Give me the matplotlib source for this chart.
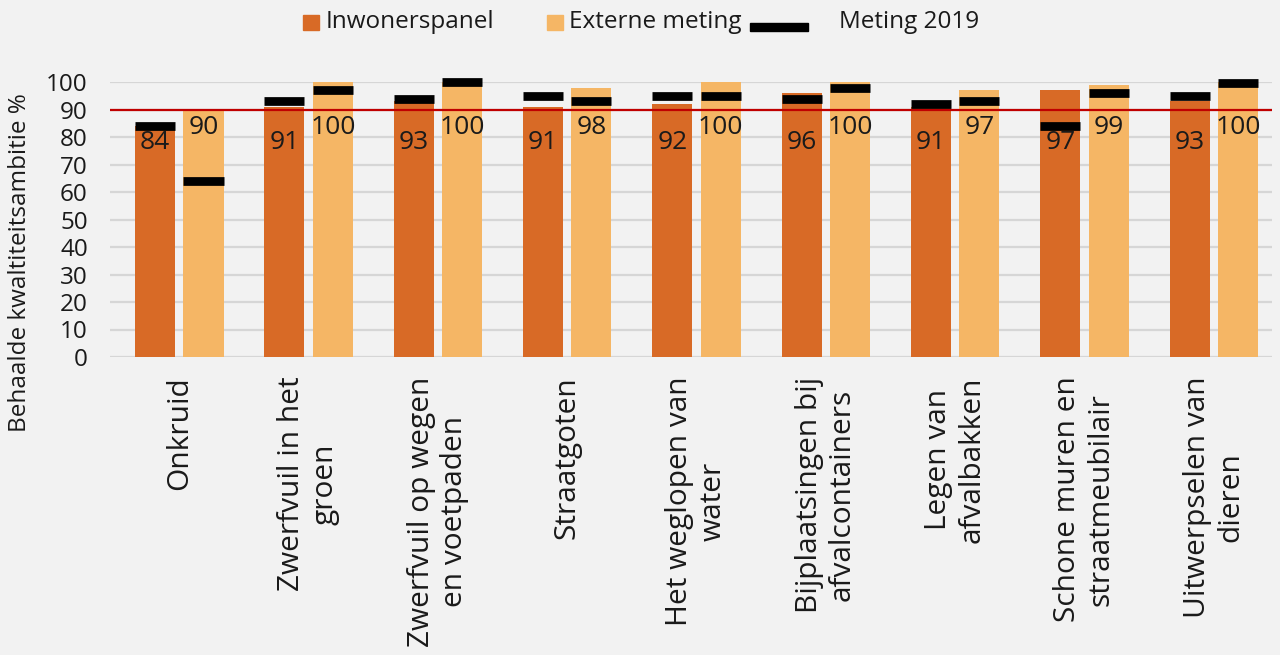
import matplotlib

matplotlib.use("Agg")
import matplotlib.pyplot as plt
import numpy as np
from matplotlib.patches import Rectangle

categories = [
    "Onkruid",
    "Zwerfvuil in het\ngroen",
    "Zwerfvuil op wegen\nen voetpaden",
    "Straatgoten",
    "Het weglopen van\nwater",
    "Bijplaatsingen bij\nafvalcontainers",
    "Legen van\nafvalbakken",
    "Schone muren en\nstraatmeubilair",
    "Uitwerpselen van\ndieren",
]
inwonerspanel = [84, 91, 93, 91, 92, 96, 91, 97, 93]
externe_meting = [90, 100, 100, 98, 100, 100, 97, 99, 100]
meting2019_inw = [84, 93, 94, 95, 95, 94, 92, 84, 95]
meting2019_ext = [64, 97, 100, 93, 95, 98, 93, 96, 99.5]
ambitie = 90
yticks = list(range(0, 101, 10))

C_INW = "#d86a26"
C_EXT = "#f5b665"
BG = "#f2f2f2"
TXT = "#1a1a1a"
W, H = 1280, 655

plt.rcParams["font.family"] = ["Open Sans", "DejaVu Sans"]

fig = plt.figure(figsize=(W / 100, H / 100), dpi=100, facecolor=BG)
ax = fig.add_axes([110 / W, 1 - 357 / H, (1272 - 110) / W, (357 - 82) / H])
ax.set_facecolor(BG)

x = np.arange(len(categories))
w = 0.31
off = 0.187

ax.bar(x - off, inwonerspanel, w, color=C_INW, zorder=2)
ax.bar(x + off, externe_meting, w, color=C_EXT, zorder=2)

ax.axhline(ambitie, color="#c00000", lw=1.6, zorder=3)

ax.hlines(meting2019_inw, x - off - w / 2, x - off + w / 2, color="black",
          lw=6.3, zorder=4, clip_on=False)
ax.hlines(meting2019_ext, x + off - w / 2, x + off + w / 2, color="black",
          lw=6.3, zorder=4, clip_on=False)

# data labels sit just under the ambition line, as in the original
for xi, v in zip(x, inwonerspanel):
    ax.text(xi - off, 78, f"{v}", ha="center", va="center", fontsize=19,
            color=TXT, zorder=5)
for xi, v in zip(x, externe_meting):
    ax.text(xi + off, 83.5, f"{v}", ha="center", va="center", fontsize=19,
            color=TXT, zorder=5)

ax.set_ylim(0, 100)
ax.set_xlim(-0.536, len(categories) - 1 + 0.45)
ax.set_yticks(yticks)
ax.set_yticklabels([str(t) for t in yticks], fontsize=17.5, color=TXT)
ax.grid(axis="y", color="#d6d6d6", lw=1.6, zorder=0)
ax.set_axisbelow(True)
ax.tick_params(axis="y", length=0, pad=16)
for s in ax.spines.values():
    s.set_visible(False)

ax.set_xticks(x)
ax.set_xticklabels(categories, rotation=90, fontsize=21.5, color=TXT,
                   multialignment="center", va="top")
ax.tick_params(axis="x", length=0, pad=14)

fig.text(20 / W, 1 - 263 / H, "Behaalde kwaltiteitsambitie %", rotation=90,
         ha="center", va="center", fontsize=17.5, color=TXT)

# legend laid out like the Excel one (black dash right after "Externe meting")
def fx(px):
    return px / W


def fy(py):
    return 1 - py / H


for x0, col in ((303, C_INW), (547, C_EXT)):
    fig.add_artist(Rectangle((fx(x0), fy(30)), 16 / W, 15 / H, color=col,
                             transform=fig.transFigure))
fig.add_artist(Rectangle((fx(750), fy(31)), 58 / W, 8 / H, color="black",
                         transform=fig.transFigure))
for x0, label in ((326, "Inwonerspanel"), (569, "Externe meting"),
                  (839, "Meting 2019")):
    fig.text(fx(x0), fy(22), label, ha="left", va="center", fontsize=17.5,
             color=TXT)

fig.savefig("out.png", dpi=100, facecolor=BG)
